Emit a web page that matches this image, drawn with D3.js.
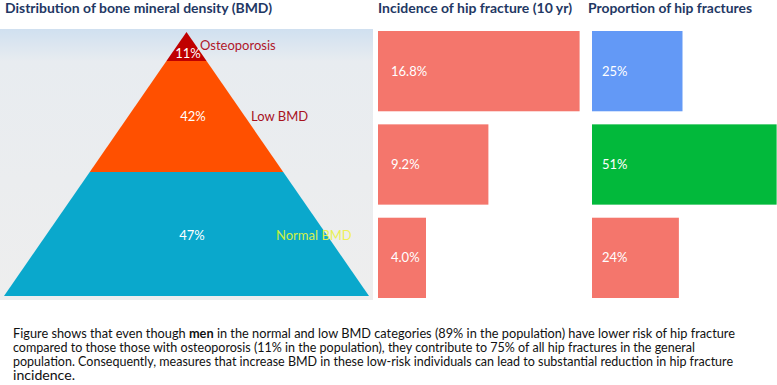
<!DOCTYPE html>
<html><head><meta charset="utf-8">
<script src="https://cdn.jsdelivr.net/npm/d3@7"></script>
<style>body{margin:0;background:#fff}svg{display:block}text{font-family:Lato,"Open Sans",sans-serif}</style>
</head><body>
<script>
const bmdCategories = ["Osteoporosis", "Low BMD", "Normal BMD"];
const bmdShare = [11, 42, 47];
const bmdLabels = ["11%", "42%", "47%"];
const incidence = [16.8, 9.2, 4.0];
const incidenceLabels = ["16.8%", "9.2%", "4.0%"];
const proportion = [25, 51, 24];
const proportionLabels = ["25%", "51%", "24%"];
const titles = ["Distribution of bone mineral density (BMD)", "Incidence of hip fracture (10 yr)", "Proportion of hip fractures"];
const caption = [
  ["Figure shows that even though ", ["men"], " in the normal and low BMD categories (89% in the population) have lower risk of hip fracture"],
  ["compared to those those with osteoporosis (11% in the population), they contribute to 75% of all hip fractures in the general"],
  ["population. Consequently, measures that increase BMD in these low-risk individuals can lead to substantial reduction in hip fracture"],
  ["incidence."]
];

const W = 777, H = 385;
const svg = d3.select("body").append("svg").attr("width", W).attr("height", H);
const defs = svg.append("defs");
const g1 = defs.append("linearGradient").attr("id", "bg").attr("x1", 0).attr("x2", 0).attr("y1", 0).attr("y2", 1);
g1.append("stop").attr("offset", "0%").attr("stop-color", "#d0e0f0");
g1.append("stop").attr("offset", "12%").attr("stop-color", "#e8ecf0");
g1.append("stop").attr("offset", "100%").attr("stop-color", "#eeeeee");
const g2 = defs.append("linearGradient").attr("id", "nbmd").attr("x1", 0).attr("x2", 1);
g2.append("stop").attr("offset", "0%").attr("stop-color", "#c6f03c");
g2.append("stop").attr("offset", "100%").attr("stop-color", "#f2f05a");

// Pyramid panel
svg.append("rect").attr("x", 0).attr("y", 29).attr("width", 373).attr("height", 271).attr("fill", "url(#bg)");

const cx = 186.5;
const yP = d3.scaleLinear().domain([0, 100]).range([32, 296]);
const hw = d3.scaleLinear().domain([0, 100]).range([0, 182.5]);
const cum = d3.cumsum(bmdShare);
const layerColors = ["#c00000", "#ff5000", "#0aa8cc"];
const layers = bmdShare.map((v, i) => ({ cat: bmdCategories[i], top: i ? cum[i - 1] : 0, bot: cum[i], i }));
svg.selectAll("path.layer").data(layers).join("path").attr("class", "layer")
  .attr("d", d => {
    const yt = yP(d.top), yb = yP(d.bot);
    return d3.line()([[cx - hw(d.top), yt], [cx + hw(d.top), yt], [cx + hw(d.bot), yb], [cx - hw(d.bot), yb]]) + "Z";
  })
  .attr("fill", d => layerColors[d.i]);

const pctPos = [{ x: 188, y: 58 }, { x: 193, y: 121 }, { x: 192, y: 240 }];
svg.selectAll("text.pct").data(layers).join("text").attr("class", "pct")
  .attr("x", (d, i) => pctPos[i].x).attr("y", (d, i) => pctPos[i].y)
  .attr("text-anchor", "middle").attr("fill", "#fff").attr("font-size", 13)
  .text((d, i) => bmdLabels[i]);
const catPos = [{ x: 200, y: 50, c: "#b0162a" }, { x: 251, y: 121, c: "#a8121e" }, { x: 276, y: 240, c: "url(#nbmd)" }];
svg.selectAll("text.cat").data(layers).join("text").attr("class", "cat")
  .attr("x", (d, i) => catPos[i].x).attr("y", (d, i) => catPos[i].y)
  .attr("fill", (d, i) => catPos[i].c).attr("font-size", 13)
  .text(d => d.cat);

// Titles
const titleX = [5, 378, 588];
const titleLen = [267, 194, 164];
svg.selectAll("text.title").data(titles).join("text").attr("class", "title")
  .attr("x", (d, i) => titleX[i]).attr("y", 13)
  .attr("fill", "#1f3864").attr("font-weight", "bold").attr("font-size", 14)
  .attr("textLength", (d, i) => titleLen[i]).attr("lengthAdjust", "spacingAndGlyphs")
  .text(d => d);

// Bars
const rows = bmdCategories;
const yB = d3.scaleBand().domain(rows).range([31, 298]).paddingInner(0.14);
const xInc = d3.scaleLinear().domain([0, 20]).range([0, 240]);
const xProp = d3.scaleLinear().domain([0, 100]).range([0, 362]);
const incX0 = 378, propX0 = 592;
const propColors = ["#6399f6", "#02b93b", "#f4766c"];

svg.selectAll("rect.inc").data(incidence).join("rect").attr("class", "inc")
  .attr("x", incX0).attr("y", (d, i) => yB(rows[i]))
  .attr("width", d => xInc(d)).attr("height", yB.bandwidth())
  .attr("fill", "#f4766c");
svg.selectAll("text.incl").data(incidenceLabels).join("text").attr("class", "incl")
  .attr("x", incX0 + 13).attr("y", (d, i) => yB(rows[i]) + yB.bandwidth() / 2)
  .attr("dy", "0.35em").attr("fill", "#fff").attr("font-size", 13).text(d => d);

svg.selectAll("rect.prop").data(proportion).join("rect").attr("class", "prop")
  .attr("x", propX0).attr("y", (d, i) => yB(rows[i]))
  .attr("width", d => xProp(d)).attr("height", yB.bandwidth())
  .attr("fill", (d, i) => propColors[i]);
svg.selectAll("text.propl").data(proportionLabels).join("text").attr("class", "propl")
  .attr("x", propX0 + 10).attr("y", (d, i) => yB(rows[i]) + yB.bandwidth() / 2)
  .attr("dy", "0.35em").attr("fill", "#fff").attr("font-size", 13).text(d => d);

// Caption
const capY = [338, 352, 366, 380];
const capLen = [722, 682, 720, 62];
caption.forEach((parts, i) => {
  const t = svg.append("text").attr("x", 13).attr("y", capY[i]).attr("font-size", 12.5).attr("fill", "#111")
    .attr("textLength", capLen[i]).attr("lengthAdjust", "spacingAndGlyphs");
  parts.forEach(p => {
    if (Array.isArray(p)) t.append("tspan").attr("font-weight", "bold").text(p[0]);
    else t.append("tspan").text(p);
  });
});
</script>
</body></html>
